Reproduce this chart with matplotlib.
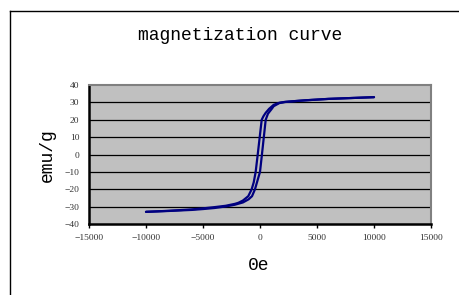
import matplotlib
matplotlib.use("Agg")
import matplotlib.pyplot as plt
from matplotlib.lines import Line2D

# descending branch (from +H to -H)
h_down = [10000, 8000, 6000, 5000, 4000, 3000, 2200, 1700, 1200, 800, 500, 300, 150, -25, -200,
          -380, -550, -730, -1030, -1500, -1900, -2200, -3000, -4000, -5000, -6000, -8000, -10000]
m_down = [33, 32.5, 32, 31.6, 31.2, 30.7, 30.3, 29.8, 28.6, 26.3, 24, 22, 20, 10, 0,
          -10, -16, -20, -24, -26.5, -27.8, -28.4, -29.5, -30.3, -31, -31.6, -32.4, -33]

# ascending branch (from -H to +H)
h_up = [-10000, -8000, -6000, -5000, -4000, -3000, -2200, -1500, -1000, -700, -440, 0, 170,
        335, 500, 700, 1000, 1200, 1700, 2200, 3000, 4000, 5000, 6000, 8000, 10000]
m_up = [-33, -32.5, -31.9, -31.4, -30.8, -29.9, -28.9, -27.6, -25.8, -24, -20, -10, 0,
        10, 20, 23.5, 26, 27.8, 29.6, 30.2, 30.7, 31.2, 31.6, 32, 32.5, 33]

x_ticks = [-15000, -10000, -5000, 0, 5000, 10000, 15000]
y_ticks = [-40, -30, -20, -10, 0, 10, 20, 30, 40]

fig = plt.figure(figsize=(4.6, 2.95), dpi=100)
ax = fig.add_axes([89 / 460, 71 / 295, 342 / 460, 139 / 295])
ax.set_facecolor('#C0C0C0')

for y in y_ticks[1:-1]:
    ax.axhline(y, color='black', lw=0.9, zorder=1)

ax.plot(h_down, m_down, color='#000080', lw=1.6, zorder=3, solid_capstyle='round', solid_joinstyle='round')
ax.plot(h_up, m_up, color='#000080', lw=1.6, zorder=3, solid_capstyle='round', solid_joinstyle='round')

ax.set_xlim(-15000, 15000)
ax.set_ylim(-40, 40)
ax.set_xticks(x_ticks)
ax.set_yticks(y_ticks)

tick_font = {'family': 'Liberation Serif', 'size': 6.8}
ax.set_xticklabels([f"{v}".replace('-', '\u2212') for v in x_ticks], fontdict=tick_font, color='#333333')
ax.set_yticklabels([f"{v}".replace('-', '\u2212') for v in y_ticks], fontdict=tick_font, color='#333333')
ax.tick_params(axis='x', direction='out', length=3, width=1, pad=4)
ax.tick_params(axis='y', length=0, pad=7)

for side in ['top', 'right']:
    ax.spines[side].set_color('#808080')
    ax.spines[side].set_linewidth(1.5)
for side in ['left', 'bottom']:
    ax.spines[side].set_color('black')
    ax.spines[side].set_linewidth(1.8)

mono = 'Liberation Mono'
fig.text(240 / 460, 1 - 36 / 295, 'magnetization curve', family=mono, size=13,
         ha='center', va='center')
fig.text(47 / 460, 1 - 155 / 295, 'emu/g', family=mono, size=13,
         ha='center', va='center', rotation=90)
fig.text(259 / 460, 1 - 265 / 295, '0e', family=mono, size=13,
         ha='center', va='center')

# outer chart frame (left and top edges visible)
fig.add_artist(Line2D([10.5 / 460, 10.5 / 460], [0, 1 - 11 / 295], color='black', lw=1,
                      transform=fig.transFigure))
fig.add_artist(Line2D([10.5 / 460, 1], [1 - 11 / 295, 1 - 11 / 295], color='black', lw=1,
                      transform=fig.transFigure))

fig.savefig('out.png', dpi=100)
